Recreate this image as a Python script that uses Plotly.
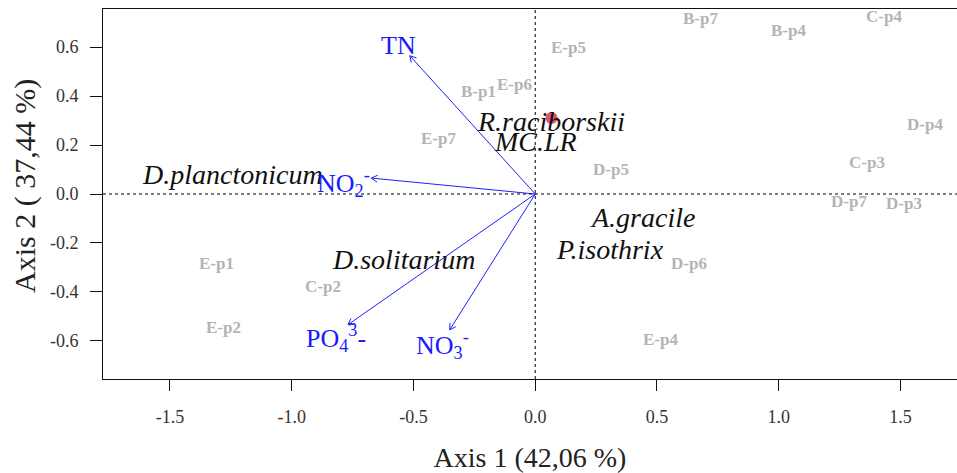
import math
import plotly.graph_objects as go

# ---- data (site scores, species scores, environmental vectors) ----
site_names = ["B-p7", "B-p4", "C-p4", "E-p5", "D-p4", "C-p3", "D-p5", "D-p7", "D-p3",
              "D-p6", "E-p4", "B-p1", "E-p6", "E-p7", "E-p1", "C-p2", "E-p2"]
site_x = [0.679, 1.039, 1.433, 0.135, 1.601, 1.361, 0.313, 1.290, 1.514,
          0.632, 0.515, -0.235, -0.084, -0.399, -1.307, -0.871, -1.282]
site_y = [0.719, 0.669, 0.724, 0.597, 0.286, 0.129, 0.099, -0.030, -0.037,
          -0.285, -0.593, 0.417, 0.447, 0.226, -0.285, -0.378, -0.544]

species_names = ["R.raciborskii", "MC.LR", "D.planctonicum", "D.solitarium", "A.gracile", "P.isothrix"]
species_x = [0.066, 0.000, -1.242, -0.540, 0.440, 0.309]
species_y = [0.297, 0.215, 0.079, -0.269, -0.098, -0.228]

env_names = ["TN", "NO<sub>2</sub><sup>-</sup>", "PO<sub>4</sub><sup>3</sup>-", "NO<sub>3</sub><sup>-</sup>"]
env_x = [-0.515, -0.673, -0.769, -0.351]
env_y = [0.565, 0.065, -0.534, -0.555]
env_label_x = [-0.560, -0.786, -0.817, -0.380]
env_label_y = [0.608, 0.047, -0.588, -0.616]

highlight_x = [0.067]
highlight_y = [0.311]

x_ticks = [-1.5, -1.0, -0.5, 0.0, 0.5, 1.0, 1.5]
y_ticks = [-0.6, -0.4, -0.2, 0.0, 0.2, 0.4, 0.6]
x_title = "Axis 1 (42,06 %)"
y_title = "Axis 2 ( 37,44 %)"

# ---- layout constants ----
W, H = 957, 473
ML, MR, MT, MB = 103, 0, 9, 94
XR = [-1.775, 1.732]
YR = [-0.756, 0.756]
SERIF = "Liberation Serif, Times New Roman, serif"

fig = go.Figure()

# arrows (lines + open heads computed in pixel space)
sx = (W - ML - MR) / (XR[1] - XR[0])
sy = (H - MT - MB) / (YR[1] - YR[0])
head = 7.0
ang = math.radians(30)
ax_l, ay_l = [], []
for x, y in zip(env_x, env_y):
    dx, dy = x * sx, y * sy
    L = math.hypot(dx, dy)
    ux, uy = dx / L, dy / L
    ax_l += [0, x, None]
    ay_l += [0, y, None]
    for s in (1, -1):
        c, si = math.cos(s * ang), math.sin(s * ang)
        rx = ux * c - uy * si
        ry = ux * si + uy * c
        ax_l += [x - head * rx / sx, x, None]
        ay_l += [y - head * ry / sy, y, None]

fig.add_trace(go.Scatter(x=ax_l, y=ay_l, mode="lines",
                         line=dict(color="#2020ff", width=1), hoverinfo="skip", showlegend=False))

# highlight dot
fig.add_trace(go.Scatter(x=highlight_x, y=highlight_y, mode="markers",
                         marker=dict(size=12, color="rgba(220,30,60,0.75)", line=dict(width=0)),
                         showlegend=False, hoverinfo="skip"))

# site labels (grey bold)
for n, x, y in zip(site_names, site_x, site_y):
    fig.add_annotation(x=x, y=y, text=f"<b>{n}</b>", showarrow=False, xanchor="center", yanchor="middle",
                       font=dict(family=SERIF, size=17, color="#b4b4b4"))

# species labels (black italic)
for n, x, y in zip(species_names, species_x, species_y):
    fig.add_annotation(x=x, y=y, text=f"<i>{n}</i>", showarrow=False, xanchor="center", yanchor="middle",
                       font=dict(family=SERIF, size=28, color="#111111"))

# env labels (blue)
for n, x, y in zip(env_names, env_label_x, env_label_y):
    fig.add_annotation(x=x, y=y, text=n, showarrow=False, xanchor="center", yanchor="middle",
                       font=dict(family=SERIF, size=26, color="#1a1aff"))

# y-axis title
fig.add_annotation(x=(25 - ML) / (W - ML - MR), y=(H - MB - 186) / (H - MT - MB), xref="paper", yref="paper",
                   text=y_title, textangle=-90, showarrow=False, xanchor="center", yanchor="middle",
                   font=dict(family=SERIF, size=30, color="#222222"))

# dotted zero lines
fig.add_shape(type="line", x0=0, x1=0, y0=YR[0], y1=YR[1], xref="x", yref="y",
              line=dict(color="black", width=1, dash="dot"))
fig.add_shape(type="line", x0=XR[0], x1=XR[1], y0=0, y1=0, xref="x", yref="y",
              line=dict(color="black", width=1, dash="dot"))

fig.update_layout(
    width=W, height=H,
    margin=dict(l=ML, r=MR, t=MT, b=MB),
    paper_bgcolor="white", plot_bgcolor="white",
    font=dict(family=SERIF, color="#222222"),
    xaxis=dict(range=XR, tickvals=x_ticks, ticktext=[f"{v:.1f}" for v in x_ticks],
               showgrid=False, zeroline=False, showline=True, linecolor="#111111", linewidth=1,
               mirror=True, ticks="outside", ticklen=11, tickcolor="#111111",
               tickfont=dict(size=18, color="#333333"), ticklabelstandoff=10,
               title=dict(text=x_title, font=dict(size=28, color="#222222"), standoff=22)),
    yaxis=dict(range=YR, tickvals=y_ticks, ticktext=[f"{v:.1f}" for v in y_ticks],
               showgrid=False, zeroline=False, showline=True, linecolor="#111111", linewidth=1,
               mirror=False, ticks="outside", ticklen=12, tickcolor="#111111",
               tickfont=dict(size=18, color="#333333"), ticklabelstandoff=8),
)

fig.write_html("out.html")
